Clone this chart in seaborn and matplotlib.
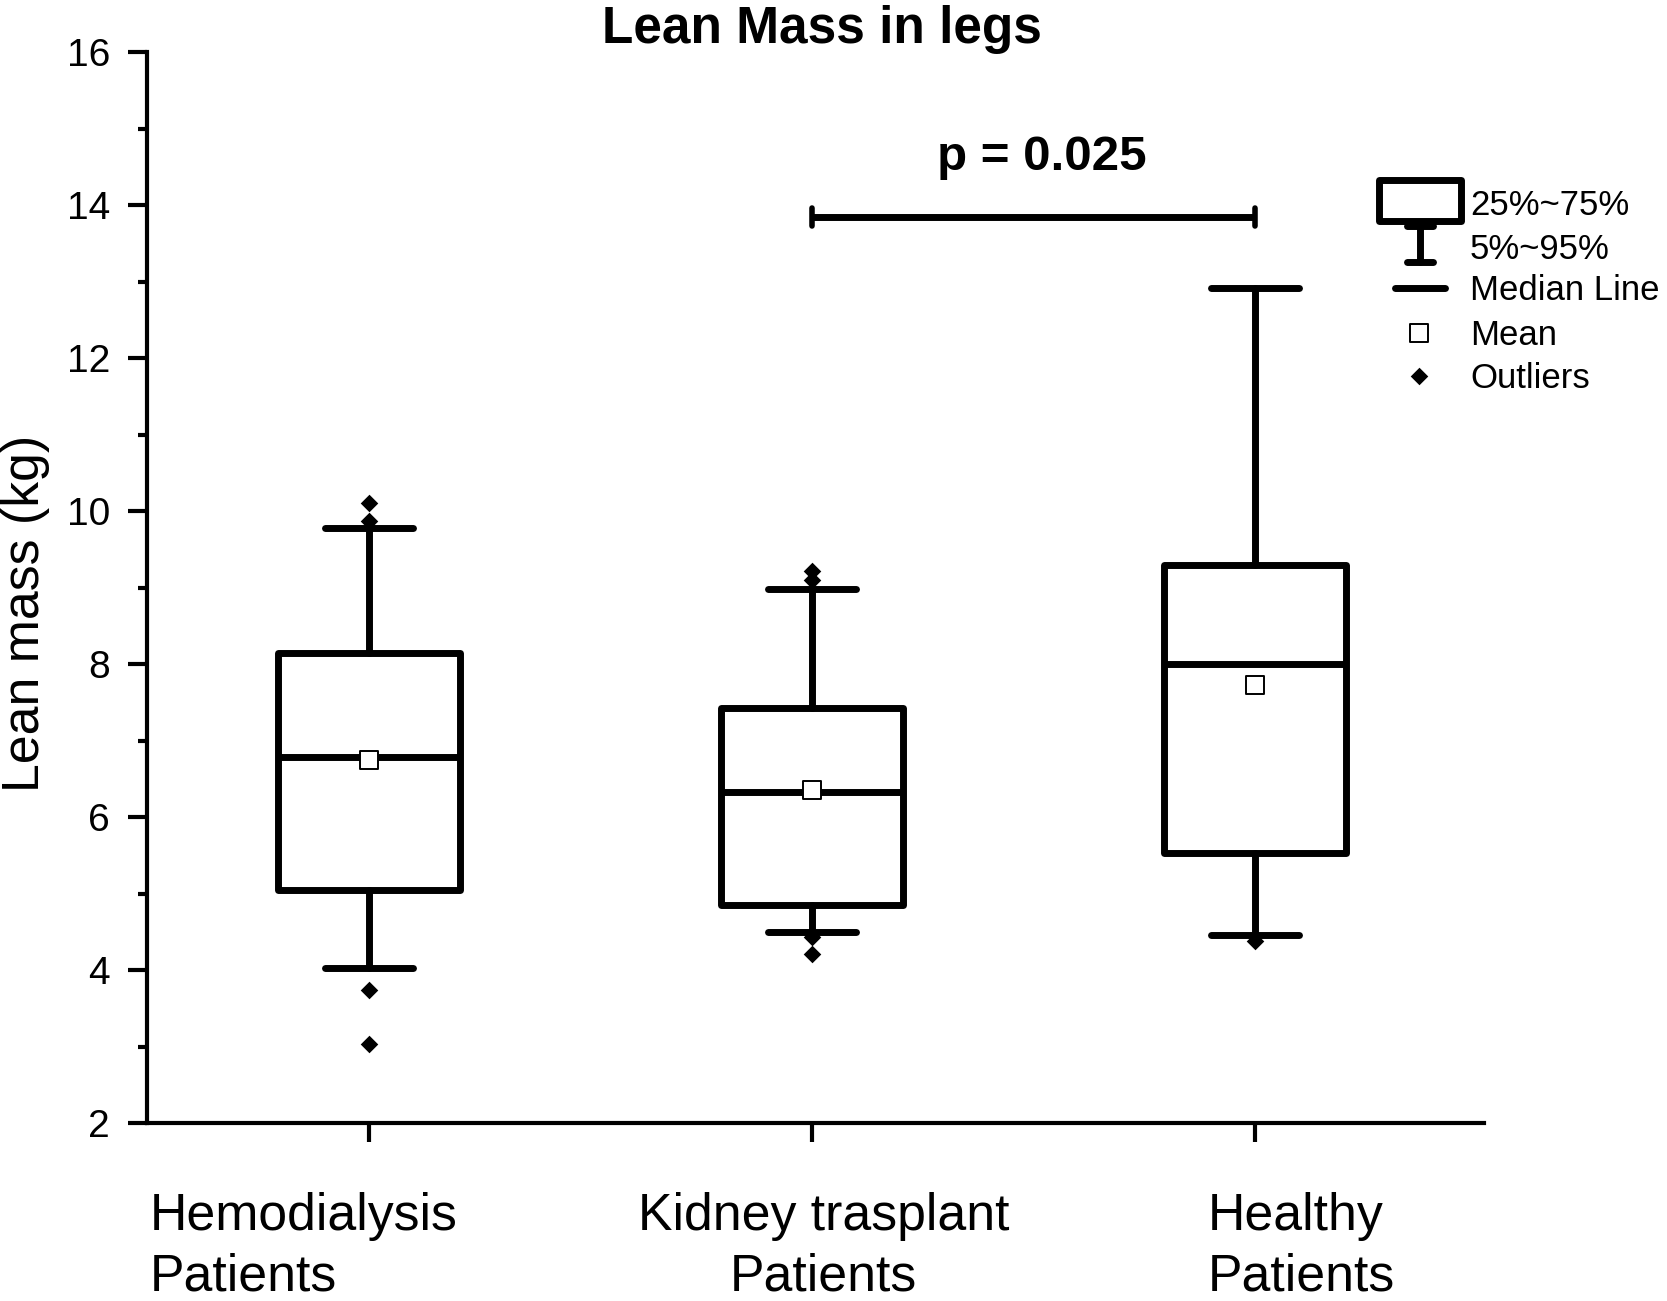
import matplotlib
matplotlib.use("Agg")
import matplotlib.pyplot as plt
import matplotlib.transforms as mtransforms
from matplotlib.patches import Rectangle
from matplotlib.ticker import MultipleLocator
import numpy as np
import pandas as pd
import seaborn as sns

# ---------------- data ----------------
groups = ["Hemodialysis\nPatients", "Kidney trasplant\nPatients", "Healthy\nPatients"]
q1 = [5.05, 4.85, 5.53]
q3 = [8.15, 7.43, 9.29]
medians = [6.78, 6.33, 8.00]
means = [6.75, 6.35, 7.72]
p5 = [4.02, 4.50, 4.46]
p95 = [9.78, 8.98, 12.92]
outlier_group = [0, 0, 0, 0, 1, 1, 1, 1, 2]
outlier_value = [10.10, 9.87, 3.74, 3.03, 9.22, 9.10, 4.43, 4.21, 4.38]
sig_pair = [1, 2]
sig_y = 13.84
p_label = "p = 0.025"
title = "Lean Mass in legs"
ylabel = "Lean mass (kg)"
legend_labels = ["25%~75%", "5%~95%", "Median Line", "Mean", "Outliers"]

# ---------------- style ----------------
sns.set_style("ticks")
plt.rcParams["font.family"] = ["Liberation Sans", "DejaVu Sans"]
plt.rcParams["text.color"] = "black"
plt.rcParams["axes.labelcolor"] = "black"
plt.rcParams["xtick.color"] = "black"
plt.rcParams["ytick.color"] = "black"
plt.rcParams["axes.edgecolor"] = "black"

W, H, DPI = 1667, 1301, 100
fig = plt.figure(figsize=(W / DPI, H / DPI), dpi=DPI)
ax = fig.add_axes([147 / W, 1 - 1123 / H, (1484 - 147) / W, (1123 - 52) / H])

LW = 5
positions = list(range(len(groups)))
stats = []
for i in positions:
    stats.append(dict(med=medians[i], q1=q1[i], q3=q3[i], whislo=p5[i], whishi=p95[i],
                      mean=means[i], fliers=[], label=groups[i]))

ax.bxp(stats, positions=positions, widths=0.41, capwidths=0.20, showfliers=False,
       showmeans=False, patch_artist=True,
       boxprops=dict(facecolor="white", edgecolor="black", linewidth=LW, joinstyle="round"),
       whiskerprops=dict(color="black", linewidth=LW, solid_capstyle="round"),
       capprops=dict(color="black", linewidth=LW, solid_capstyle="round"),
       medianprops=dict(color="black", linewidth=LW, solid_capstyle="butt"))

df_out = pd.DataFrame({"x": outlier_group, "y": outlier_value})
sns.scatterplot(data=df_out, x="x", y="y", marker="D", s=80, color="black",
                linewidth=0, ax=ax, zorder=4)
df_mean = pd.DataFrame({"x": positions, "y": means})
sns.scatterplot(data=df_mean, x="x", y="y", marker="s", s=160, facecolor="white",
                edgecolor="black", linewidth=1.4, ax=ax, zorder=6)

# significance bar
ax.plot(sig_pair, [sig_y, sig_y], color="black", lw=5, solid_capstyle="butt", zorder=5)
for xp in sig_pair:
    ax.plot([xp, xp], [sig_y - 0.12, sig_y + 0.12], color="black", lw=4, zorder=5)
ax.text(1.519, 14.46, p_label, ha="center", va="baseline", fontsize=35.5,
        fontweight="bold", color="black")

# axes
ax.set_xlim(-0.501, 2.517)
ax.set_ylim(2, 16)
ax.yaxis.set_major_locator(MultipleLocator(2))
ax.yaxis.set_minor_locator(MultipleLocator(1))
ax.set_xticks(positions)
ax.set_xticklabels(groups)
ax.set_xlabel("")
for side in ["top", "right"]:
    ax.spines[side].set_visible(False)
for side in ["left", "bottom"]:
    ax.spines[side].set_linewidth(3)
    ax.spines[side].set_color("black")
ax.tick_params(axis="y", which="major", length=13.7, width=3, pad=13, labelsize=28,
               direction="out", color="black", labelcolor="black")
ax.tick_params(axis="y", which="minor", length=6.5, width=3, direction="out", color="black")
ax.tick_params(axis="x", which="major", length=14, width=3, pad=36, labelsize=37.3,
               direction="out", color="black", labelcolor="black")

# x tick label alignment (per label offsets in pixels)
xoffsets = [-219, -174, -47]
aligns = ["left", "center", "left"]
for lab, dx, al in zip(ax.get_xticklabels(), xoffsets, aligns):
    lab.set_ha("left")
    lab.set_multialignment(al)
    lab.set_linespacing(1.3)
    lab.set_transform(lab.get_transform() +
                      mtransforms.ScaledTranslation(dx / DPI, 0, fig.dpi_scale_trans))

ax.set_ylabel(ylabel, fontsize=37.3, color="black")
ax.yaxis.set_label_coords(-0.0725, 0.476)

fig.text(822 / W, 1 - 43 / H, title, ha="center", va="baseline", fontsize=37,
         fontweight="bold", color="black")

# ---------------- legend (drawn in pixel overlay) ----------------
ov = fig.add_axes([0, 0, 1, 1], zorder=10)
ov.set_xlim(0, W)
ov.set_ylim(H, 0)
ov.axis("off")
ov.patch.set_alpha(0)
ov.add_patch(Rectangle((1379, 180), 82, 41, facecolor="white", edgecolor="black",
                       linewidth=LW, joinstyle="round"))
ov.plot([1407, 1433], [226, 226], color="black", lw=LW, solid_capstyle="round")
ov.plot([1420, 1420], [226, 262], color="black", lw=LW)
ov.plot([1407, 1433], [262, 262], color="black", lw=LW, solid_capstyle="round")
ov.plot([1395, 1445], [288, 288], color="black", lw=LW, solid_capstyle="round")
ov.scatter([1419], [333], marker="s", s=160, facecolor="white", edgecolor="black",
           linewidth=1.4)
ov.scatter([1419], [376], marker="D", s=80, color="black", linewidth=0)
for lbl, yb in zip(legend_labels, [215, 259, 300, 345, 388]):
    ov.text(1470, yb, lbl, ha="left", va="baseline", fontsize=25, color="black")

fig.savefig("out.png", dpi=DPI)
